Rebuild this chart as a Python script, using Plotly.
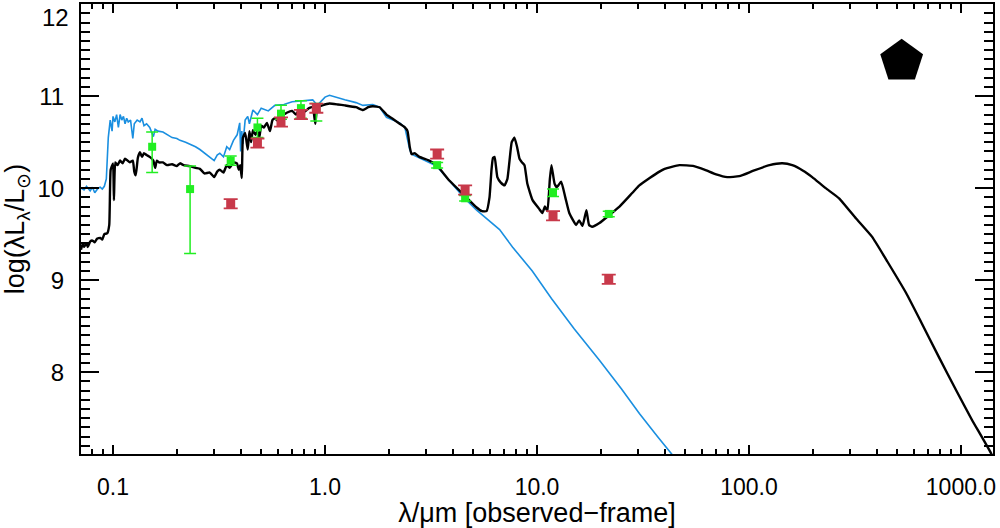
import plotly.graph_objects as go

# model SED (black): wavelength [um], log(lambda L_lambda / Lsun)
model_wl = [0.0706, 0.072, 0.073, 0.075, 0.076, 0.078, 0.080, 0.082, 0.084, 0.087,
            0.089, 0.091, 0.094, 0.096, 0.0975, 0.100, 0.101, 0.1025, 0.105, 0.108,
            0.111, 0.114, 0.117, 0.120, 0.124, 0.126, 0.128, 0.131, 0.134, 0.137,
            0.140, 0.144, 0.149, 0.155, 0.158, 0.161, 0.165, 0.172, 0.180, 0.190,
            0.200, 0.207, 0.215, 0.230, 0.245, 0.257, 0.270, 0.286, 0.300, 0.310,
            0.319, 0.332, 0.344, 0.355, 0.370, 0.384, 0.392, 0.398, 0.405, 0.410,
            0.420, 0.432, 0.440, 0.448, 0.457, 0.470, 0.480, 0.490, 0.500, 0.515,
            0.532, 0.550, 0.565, 0.580, 0.600, 0.620, 0.640, 0.660, 0.700, 0.730,
            0.760, 0.800, 0.840, 0.875, 0.900, 0.920, 0.970, 1.05, 1.15, 1.24,
            1.40, 1.51, 1.60, 1.68, 1.81, 1.95, 2.10, 2.25, 2.38, 2.45,
            2.51, 2.56, 2.65, 2.79, 3.10, 3.36, 3.87, 4.55, 5.19, 5.50,
            5.78, 5.97, 6.10, 6.20, 6.31, 6.50, 6.75, 7.03, 7.25, 7.42,
            7.60, 7.83, 8.05, 8.27, 8.50, 8.73, 9.00, 9.53, 10.2, 10.6,
            10.9, 11.2, 11.5, 11.7, 12.1, 12.4, 13.0, 13.6, 14.2, 15.3,
            15.8, 16.4, 17.1, 17.6, 18.2, 19.7, 22.0, 24.5, 28.2, 30.4,
            34.0, 37.8, 40.0, 46.9, 55.0, 62.0, 70.0, 79.0, 90.0, 105.0,
            125.0, 143.6, 160.0, 180.0, 198.7, 230.0, 266.0, 320.0, 381.0, 450.0,
            551.0, 650.0, 788.0, 950.0, 1127.0, 1384.0, 1500.0]
model_lum = [9.33, 9.40, 9.36, 9.40, 9.36, 9.42, 9.43, 9.41, 9.45, 9.46,
             9.44, 9.50, 9.51, 9.60, 10.20, 10.27, 9.87, 10.28, 10.25, 10.30,
             10.27, 10.32, 10.30, 10.28, 10.30, 10.18, 10.14, 10.33, 10.39, 10.34,
             10.38, 10.36, 10.34, 10.30, 10.22, 10.30, 10.28, 10.28, 10.25, 10.26,
             10.24, 10.27, 10.25, 10.24, 10.22, 10.21, 10.16, 10.17, 10.12, 10.18,
             10.20, 10.17, 10.25, 10.22, 10.28, 10.27, 10.20, 10.25, 10.11, 10.55,
             10.60, 10.42, 10.62, 10.50, 10.63, 10.58, 10.62, 10.55, 10.68, 10.66,
             10.71, 10.62, 10.74, 10.76, 10.73, 10.78, 10.80, 10.82, 10.84, 10.80,
             10.86, 10.83, 10.87, 10.88, 10.70, 10.88, 10.90, 10.92, 10.91, 10.90,
             10.88, 10.85, 10.88, 10.89, 10.88, 10.80, 10.75, 10.70, 10.66, 10.62,
             10.45, 10.37, 10.38, 10.34, 10.30, 10.25, 10.08, 9.92, 9.79, 9.75,
             9.75, 9.90, 10.20, 10.33, 10.34, 10.12, 10.06, 10.03, 10.10, 10.30,
             10.50, 10.55, 10.45, 10.32, 10.28, 10.25, 10.05, 9.87, 9.78, 9.73,
             9.80, 9.75, 10.10, 10.25, 10.05, 10.01, 10.07, 9.90, 9.73, 9.60,
             9.65, 9.59, 9.76, 9.60, 9.58, 9.62, 9.71, 9.80, 9.95, 10.03,
             10.11, 10.18, 10.21, 10.25, 10.24, 10.20, 10.15, 10.12, 10.13, 10.19,
             10.25, 10.27, 10.25, 10.19, 10.12, 10.00, 9.89, 9.67, 9.47, 9.20,
             8.86, 8.54, 8.16, 7.80, 7.48, 7.12, 6.92]

# stellar component (blue)
star_wl = [0.0706, 0.073, 0.075, 0.078, 0.080, 0.082, 0.085, 0.087, 0.089, 0.091,
           0.093, 0.095, 0.097, 0.099, 0.100, 0.102, 0.104, 0.106, 0.108, 0.110,
           0.112, 0.114, 0.116, 0.118, 0.121, 0.124, 0.126, 0.130, 0.134, 0.137,
           0.140, 0.144, 0.149, 0.153, 0.155, 0.158, 0.163, 0.172, 0.180, 0.190,
           0.200, 0.207, 0.220, 0.230, 0.245, 0.257, 0.270, 0.286, 0.300, 0.310,
           0.319, 0.332, 0.344, 0.355, 0.370, 0.385, 0.396, 0.400, 0.405, 0.410,
           0.420, 0.432, 0.440, 0.457, 0.480, 0.500, 0.540, 0.580, 0.640, 0.700,
           0.800, 0.875, 0.920, 1.00, 1.05, 1.15, 1.24, 1.40, 1.51, 1.68,
           1.81, 1.95, 2.25, 2.38, 2.51, 2.56, 2.79, 3.36, 4.55, 5.19,
           6.66, 7.66, 9.50, 11.7, 15.0, 19.7, 25.0, 30.4, 37.0, 43.5,
           48.0]
star_lum = [10.00, 9.98, 10.02, 9.97, 10.01, 9.95, 10.00, 10.01, 9.99, 10.02,
            10.10, 10.55, 10.74, 10.62, 10.78, 10.72, 10.80, 10.66, 10.80, 10.74,
            10.78, 10.70, 10.76, 10.72, 10.74, 10.54, 10.70, 10.74, 10.72, 10.76,
            10.68, 10.70, 10.66, 10.60, 10.56, 10.64, 10.62, 10.61, 10.58, 10.55,
            10.54, 10.52, 10.50, 10.48, 10.45, 10.42, 10.38, 10.34, 10.30, 10.36,
            10.38, 10.34, 10.45, 10.42, 10.52, 10.58, 10.71, 10.40, 10.62, 10.48,
            10.74, 10.78, 10.70, 10.85, 10.80, 10.87, 10.84, 10.90, 10.91, 10.94,
            10.95, 10.96, 10.90, 10.99, 11.01, 10.98, 10.96, 10.93, 10.90, 10.91,
            10.88, 10.77, 10.71, 10.66, 10.42, 10.37, 10.33, 10.24, 9.89, 9.76,
            9.55, 9.36, 9.10, 8.80, 8.47, 8.13, 7.82, 7.55, 7.30, 7.10,
            6.98]

# photometry, green set
green_wl = [0.153, 0.231, 0.359, 0.48, 0.62, 0.77, 0.91, 3.38, 4.58, 11.9, 21.8]
green_lum = [10.45, 9.99, 10.30, 10.66, 10.81, 10.87, 10.87, 10.25, 9.89, 9.95, 9.72]
green_err_up = [0.16, 0.25, 0.05, 0.10, 0.09, 0.08, 0.05, 0.03, 0.03, 0.04, 0.03]
green_err_dn = [0.28, 0.70, 0.05, 0.11, 0.06, 0.11, 0.14, 0.03, 0.03, 0.04, 0.03]

# photometry, red set
red_wl = [0.359, 0.48, 0.62, 0.77, 0.91, 3.38, 4.58, 11.9, 21.8]
red_lum = [9.83, 10.49, 10.72, 10.80, 10.87, 10.37, 9.98, 9.70, 9.01]
red_err = [0.05, 0.05, 0.05, 0.05, 0.05, 0.05, 0.05, 0.05, 0.05]

# symbol in the corner
flag_wl = [525]
flag_lum = [11.38]

y_ticks = [8, 9, 10, 11, 12]
y_ticktext = ['8', '9', '10', '11', '']   # '12' is drawn just below the top edge

x_range = [-1.151, 3.151]
y_range = [7.11, 12.002]
x_minor = [m * 10.0 ** e for e in range(-2, 4) for m in range(2, 10)]

fig = go.Figure()
fig.add_trace(go.Scatter(x=star_wl, y=star_lum, mode='lines',
                         line=dict(color='#1a8fe0', width=1.6)))
fig.add_trace(go.Scatter(x=model_wl, y=model_lum, mode='lines',
                         line=dict(color='black', width=2.4, shape='spline', smoothing=0.4)))
fig.add_trace(go.Scatter(
    x=green_wl, y=green_lum, mode='markers',
    marker=dict(symbol='square', size=8, color='#22ee22'),
    error_y=dict(type='data', symmetric=False, array=green_err_up, arrayminus=green_err_dn,
                 color='#22ee22', thickness=1.5, width=6),
))
fig.add_trace(go.Scatter(
    x=red_wl, y=red_lum, mode='markers',
    marker=dict(symbol='square', size=9, color='#c8394a'),
    error_y=dict(type='data', array=red_err, color='#c8394a', thickness=1.8, width=7),
))
# pentagon sits on the overlay axes (same ranges) so they get drawn
fig.add_trace(go.Scatter(x=flag_wl, y=flag_lum, mode='markers', xaxis='x2', yaxis='y2',
                         marker=dict(symbol='pentagon', size=45, color='black')))

fig.add_annotation(text=y_ticks[-1], x=0, xref='paper', xanchor='right', xshift=-10,
                   y=y_ticks[-1], yref='y', yanchor='top', yshift=2,
                   showarrow=False, font=dict(size=24))

fig.update_layout(
    width=1000, height=528,
    margin=dict(l=81, r=7, t=4, b=74),
    plot_bgcolor='white', paper_bgcolor='white',
    showlegend=False,
    font=dict(family='Liberation Sans', color='black', size=23),
    xaxis=dict(
        type='log', range=x_range, dtick=1, tickformat='.1f',
        ticks='inside', ticklen=9, tickwidth=1.5, tickcolor='black',
        showline=True, linecolor='black', linewidth=2, mirror='ticks',
        showgrid=False, zeroline=False, ticklabelstandoff=11, automargin=False,
        title=dict(text='λ/μm [observed−frame]', font=dict(size=27), standoff=1),
    ),
    yaxis=dict(
        range=y_range, tickmode='array', tickvals=y_ticks, ticktext=y_ticktext,
        ticks='inside', ticklen=18, tickwidth=1.5, tickcolor='black',
        showline=True, linecolor='black', linewidth=2, mirror='ticks',
        showgrid=False, zeroline=False, ticklabelstandoff=10, automargin=False,
        tickfont=dict(size=24),
        title=dict(text='log(λL<sub>λ</sub>/L<sub>⊙</sub>)', font=dict(size=27), standoff=8),
    ),
    # minor ticks
    xaxis2=dict(
        type='log', range=x_range, overlaying='x', anchor='y2', side='bottom',
        tickmode='array', tickvals=x_minor, showticklabels=False,
        ticks='inside', ticklen=5, tickwidth=1.5, tickcolor='black',
        showline=False, mirror='ticks', showgrid=False, zeroline=False, automargin=False,
    ),
    yaxis2=dict(
        range=y_range, overlaying='y', anchor='x2', side='left',
        tickmode='linear', tick0=0, dtick=0.1, showticklabels=False,
        ticks='inside', ticklen=9, tickwidth=1.5, tickcolor='black',
        showline=False, mirror='ticks', showgrid=False, zeroline=False, automargin=False,
    ),
)

fig.write_html('out.html', config={'displayModeBar': False},
               post_script="document.body.style.margin='0';")
